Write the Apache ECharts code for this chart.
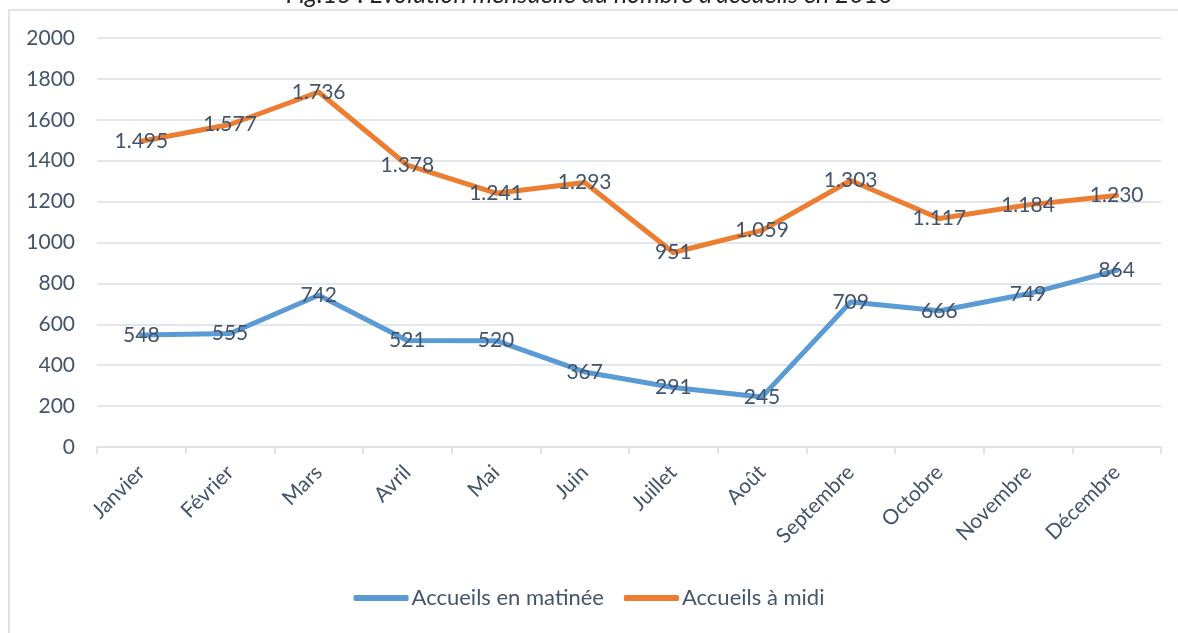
<!DOCTYPE html>
<html>
<head>
<meta charset="utf-8">
<title>Evolution mensuelle du nombre d'accueils</title>
<script src="https://cdn.jsdelivr.net/npm/echarts@6/dist/echarts.min.js"></script>
<style>
  html, body { margin: 0; padding: 0; background: #fff; overflow: hidden; }
  #frame { position: absolute; left: 8px; top: 9px; width: 1200px; height: 700px; border: 2px solid #dfe3e9; box-sizing: border-box; }
  #main { position: absolute; left: 0; top: 0; width: 1178px; height: 633px; }
</style>
</head>
<body>
<div id="frame"></div>
<div id="main"></div>
<script type="text/javascript">
    // données
    var mois = ['Janvier', 'Février', 'Mars', 'Avril', 'Mai', 'Juin', 'Juillet', 'Août', 'Septembre', 'Octobre', 'Novembre', 'Décembre'];
    var matinee = [548, 555, 742, 521, 520, 367, 291, 245, 709, 666, 749, 864];
    var midi = [1495, 1577, 1736, 1378, 1241, 1293, 951, 1059, 1303, 1117, 1184, 1230];

    var textColor = '#44546a';
    var police = 'Lato, "Open Sans", sans-serif';

    function milliers(p) {
        return String(p.value).replace(/\B(?=(\d{3})+(?!\d))/g, '.');
    }

    var myChart = echarts.init(document.getElementById('main'));
    var option = {
        animation: false,
        textStyle: { fontFamily: police },
        title: {
            text: "Fig.15 : Evolution mensuelle du nombre d'accueils en 2016",
            left: 'center',
            top: -23,
            textStyle: { fontFamily: police, fontStyle: 'italic', fontWeight: 'normal', fontSize: 25, color: '#222' }
        },
        grid: { left: 97, right: 17, top: 38, bottom: 186 },
        legend: {
            bottom: 19,
            left: 'center',
            icon: 'roundRect',
            itemWidth: 55,
            itemHeight: 6,
            itemGap: 20,
            textStyle: { color: textColor, fontSize: 22, fontFamily: police, padding: [0, 0, 0, -2] },
            data: ['Accueils en matinée', 'Accueils à midi']
        },
        xAxis: {
            type: 'category',
            data: mois,
            boundaryGap: true,
            axisLine: { lineStyle: { color: '#dfe3e9', width: 2 } },
            axisTick: { show: true, length: 7, lineStyle: { color: '#dfe3e9', width: 2 } },
            axisLabel: { rotate: 45, color: textColor, fontSize: 21, margin: 22, interval: 0 }
        },
        yAxis: {
            type: 'value',
            min: 0,
            max: 2000,
            interval: 200,
            axisLine: { show: false },
            axisTick: { show: false },
            splitLine: { lineStyle: { color: '#e3e7ec', width: 2 } },
            axisLabel: { color: textColor, fontSize: 21, margin: 22, formatter: function (v) { return String(v); } }
        },
        series: [
            {
                name: 'Accueils en matinée',
                type: 'line',
                data: matinee,
                symbol: 'circle',
                symbolSize: 0,
                lineStyle: { color: '#5b9bd5', width: 5, join: 'round', cap: 'round' },
                itemStyle: { color: '#5b9bd5' },
                label: { show: true, position: [0, 0], align: 'center', verticalAlign: 'middle', color: textColor, fontSize: 21, formatter: milliers }
            },
            {
                name: 'Accueils à midi',
                type: 'line',
                data: midi,
                symbol: 'circle',
                symbolSize: 0,
                lineStyle: { color: '#ed7d31', width: 5, join: 'round', cap: 'round' },
                itemStyle: { color: '#ed7d31' },
                label: { show: true, position: [0, 0], align: 'center', verticalAlign: 'middle', color: textColor, fontSize: 21, formatter: milliers }
            }
        ]
    };
    myChart.setOption(option);
</script>
</body>
</html>
